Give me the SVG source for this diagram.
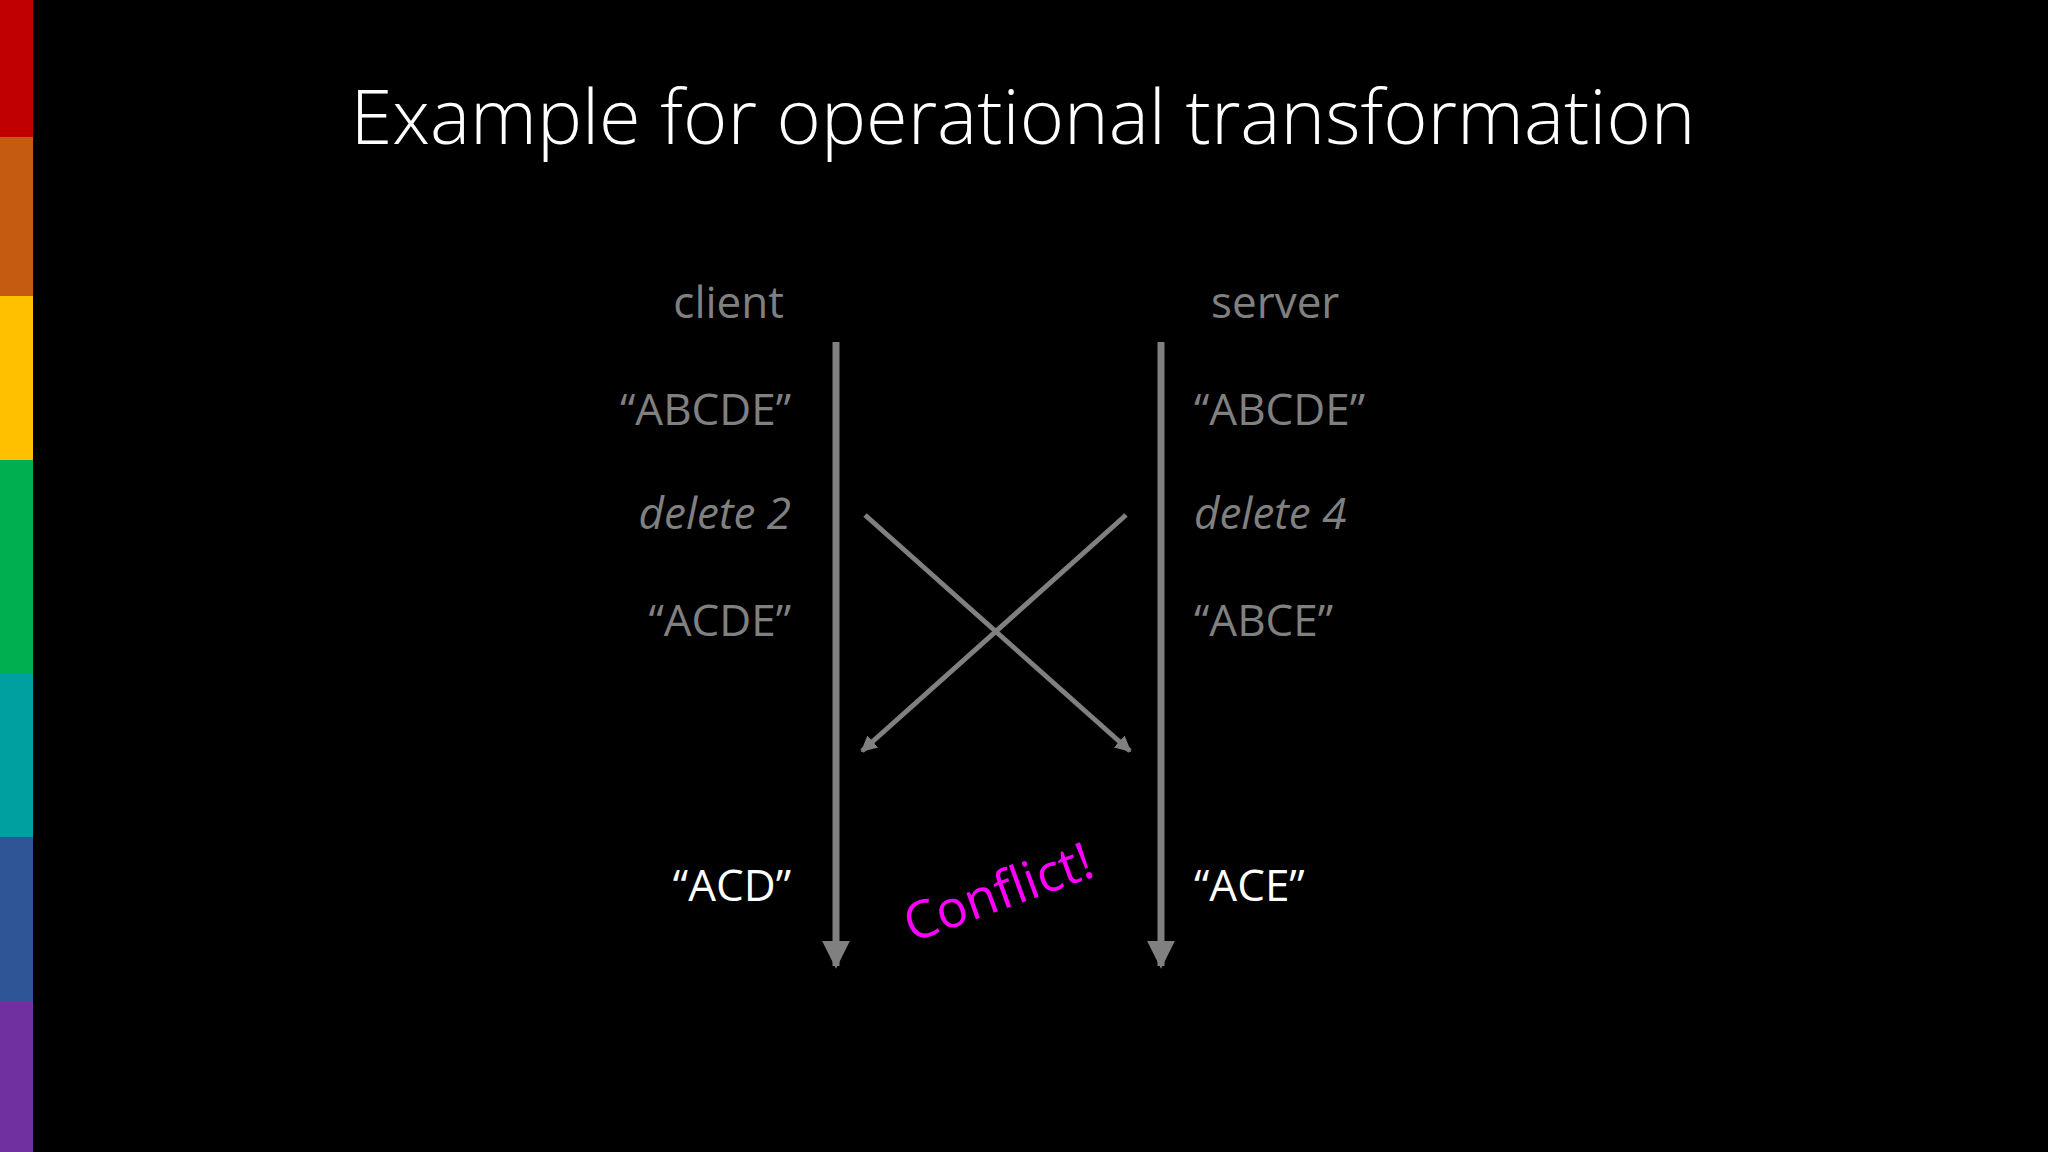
<svg xmlns="http://www.w3.org/2000/svg" width="2048" height="1152" viewBox="0 0 2048 1152">
<style>
text{font-family:"Open Sans","Liberation Sans",sans-serif}
.g{fill:#808080;font-size:44px}
.w{fill:#ffffff;font-size:44px}
.i{font-style:italic}
.r{text-anchor:end}
</style>
<defs>
<marker id="ah" viewBox="0 0 10 10" refX="9" refY="5" markerWidth="3.2" markerHeight="3.2" orient="auto" markerUnits="strokeWidth"><path d="M0,0 L10,5 L0,10 z" fill="#808080"/></marker>
<marker id="ah2" viewBox="0 0 10 10" refX="9" refY="5" markerWidth="4" markerHeight="4" orient="auto" markerUnits="strokeWidth"><path d="M0,0 L10,5 L0,10 z" fill="#808080"/></marker>
</defs>
<rect width="2048" height="1152" fill="#000"/>
<rect x="0" y="0" width="33" height="137" fill="#c00000"/>
<rect x="0" y="137" width="33" height="159" fill="#c55a11"/>
<rect x="0" y="296" width="33" height="164" fill="#ffc000"/>
<rect x="0" y="460" width="33" height="214" fill="#00b050"/>
<rect x="0" y="674" width="33" height="163" fill="#00a0a0"/>
<rect x="0" y="837" width="33" height="165" fill="#2f5597"/>
<rect x="0" y="1002" width="33" height="150" fill="#7030a0"/>
<text x="1023" y="144" fill="#fff" font-size="76" font-weight="300" text-anchor="middle" textLength="1345" lengthAdjust="spacingAndGlyphs">Example for operational transformation</text>
<g id="client">
<text class="g r" x="784" y="318" font-size="52">client</text>
<text class="g r" x="791" y="425">“ABCDE”</text>
<text class="g r i" x="791" y="529">delete 2</text>
<text class="g r" x="791" y="636">“ACDE”</text>
<text class="w r" x="791" y="901">“ACD”</text>
</g>
<g id="server">
<text class="g" x="1211" y="318" font-size="52">server</text>
<text class="g" x="1194" y="425">“ABCDE”</text>
<text class="g i" x="1194" y="529">delete 4</text>
<text class="g" x="1194" y="636">“ABCE”</text>
<text class="w" x="1194" y="901">“ACE”</text>
</g>
<g id="connectors" stroke="#808080" fill="none">
<line x1="836" y1="342" x2="836" y2="966" stroke-width="7" marker-end="url(#ah2)"/>
<line x1="1161" y1="342" x2="1161" y2="966" stroke-width="7" marker-end="url(#ah2)"/>
<line x1="865" y1="515" x2="1130" y2="751" stroke-width="5" marker-end="url(#ah)"/>
<line x1="1126" y1="515" x2="862" y2="751" stroke-width="5" marker-end="url(#ah)"/>
</g>
<text x="999" y="910" fill="#ff00ff" font-size="52" text-anchor="middle" transform="rotate(-20 999 895)">Conflict!</text>
</svg>
